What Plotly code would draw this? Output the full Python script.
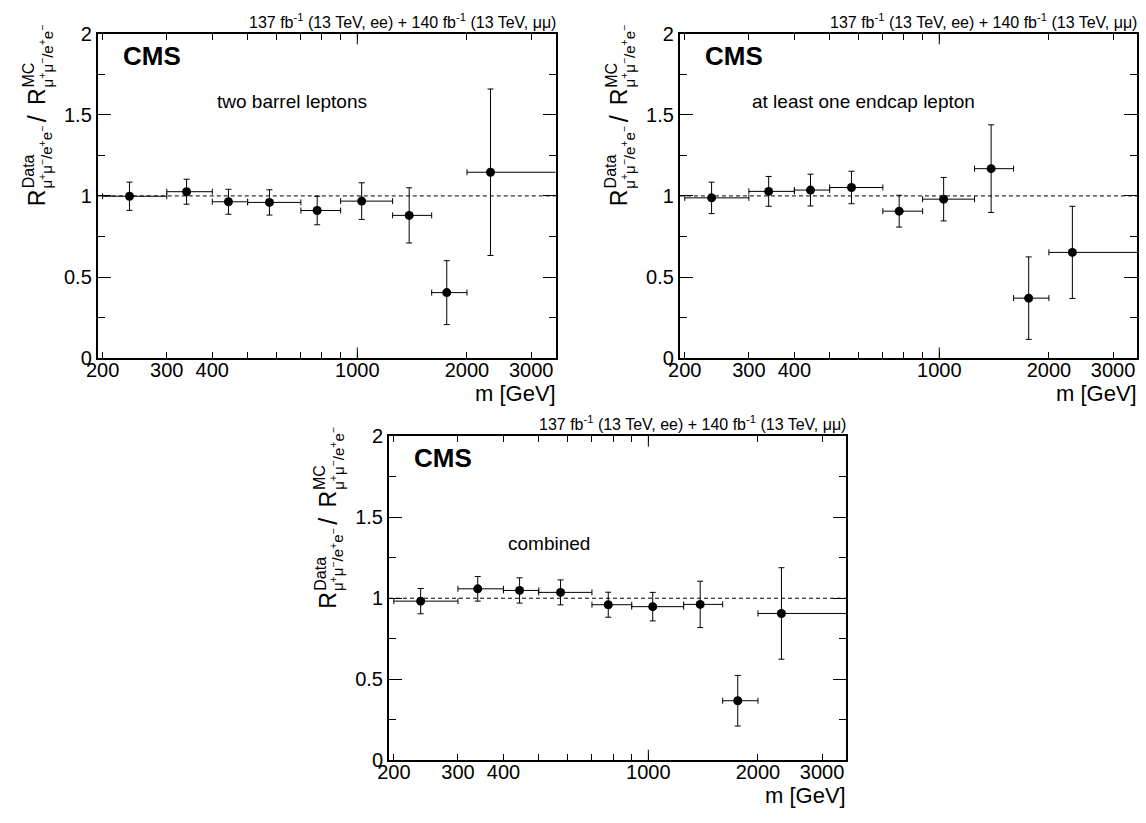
import math
import plotly.graph_objects as go

W, H = 1146, 823

# ---------------- data ----------------
mass_mean = [237, 340, 443, 574, 776, 1028, 1388, 1760, 2320]
bin_lo = [200, 300, 400, 500, 700, 900, 1250, 1600, 2000]
bin_hi = [300, 400, 500, 700, 900, 1250, 1600, 2000, 6000]

ratio_barrel = [0.998, 1.026, 0.964, 0.960, 0.910, 0.968, 0.880, 0.404, 1.146]
err_barrel = [0.087, 0.077, 0.077, 0.078, 0.088, 0.113, 0.170, 0.197, 0.513]

ratio_endcap = [0.988, 1.028, 1.036, 1.052, 0.906, 0.980, 1.168, 0.370, 0.652]
err_endcap = [0.097, 0.092, 0.098, 0.100, 0.098, 0.134, 0.270, 0.254, 0.284]

ratio_comb = [0.982, 1.058, 1.048, 1.036, 0.960, 0.948, 0.962, 0.368, 0.906]
err_comb = [0.078, 0.076, 0.078, 0.077, 0.077, 0.088, 0.143, 0.156, 0.282]

panel_labels = ["two barrel leptons", "at least one endcap lepton", "combined"]

x_tick_vals = [200, 300, 400, 1000, 2000, 3000]
x_tick_text = ["200", "300", "400", "1000", "2000", "3000"]
x_minor_vals = [500, 600, 700, 800, 900]
x_long_ticks = [1000]
y_tick_vals = [0, 0.5, 1, 1.5, 2]
y_tick_text = ["0", "0.5", "1", "1.5", "2"]
y_minor_vals = [0.25, 0.75, 1.25, 1.75]
x_range = [194, 3500]
y_range = [0, 2]

lumi_text = "137 fb<sup>-1</sup> (13 TeV, ee) + 140 fb<sup>-1</sup> (13 TeV, μμ)"
x_title = "m [GeV]"
sub_txt = "μ<sup>+</sup>μ<sup>−</sup>/e<sup>+</sup>e<sup>−</sup>"

# ---------------- layout helpers ----------------
FONT = "Liberation Sans, Arial, Helvetica, sans-serif"
# panel frames in pixels: left, top, right, bottom
boxes = [(86.7, 23.3, 549.3, 356.7), (675.0, 23.3, 1137.3, 356.7), (381.0, 436.7, 843.3, 770.0)]
# description text position (relative to panel left/top)
desc_pos = [(196, 70), (186, 70), (162, 110)]


def px(x, y):
    return x / W, 1 - y / H


fig = go.Figure()
series = [(ratio_barrel, err_barrel), (ratio_endcap, err_endcap), (ratio_comb, err_comb)]

annotations = []
shapes = []
for i, ((vals, errs), box) in enumerate(zip(series, boxes)):
    sfx = "" if i == 0 else str(i + 1)
    L, T, R, B = box
    fig.add_trace(go.Scatter(
        x=mass_mean, y=vals, mode="markers",
        marker=dict(color="black", size=9),
        error_x=dict(type="data", symmetric=False,
                     array=[h - m for h, m in zip(bin_hi, mass_mean)],
                     arrayminus=[m - l for m, l in zip(mass_mean, bin_lo)],
                     color="black", thickness=1, width=3),
        error_y=dict(type="data", array=errs, color="black", thickness=1, width=3),
        xaxis="x" + sfx, yaxis="y" + sfx, showlegend=False, hoverinfo="x+y",
    ))
    x0, y1 = px(L, T)
    x1, y0 = px(R, B)
    axis_common = dict(showline=True, linecolor="black", linewidth=2, mirror="allticks",
                       ticks="inside", tickcolor="black", showgrid=False, zeroline=False,
                       tickfont=dict(family=FONT, size=20, color="black"))
    fig.layout["xaxis" + sfx] = dict(
        axis_common, type="log", domain=[x0, x1], anchor="y" + sfx,
        range=[math.log10(x_range[0]), math.log10(x_range[1])],
        tickmode="array", tickvals=x_tick_vals, ticktext=x_tick_text, ticklen=6, tickwidth=1,
        ticklabelstandoff=-7,
        minor=dict(tickmode="array", tickvals=x_minor_vals, ticks="inside", ticklen=6,
                   tickwidth=1, tickcolor="black", showgrid=False),
    )
    fig.layout["yaxis" + sfx] = dict(
        axis_common, domain=[y0, y1], anchor="x" + sfx, range=y_range,
        tickmode="array", tickvals=y_tick_vals, ticktext=y_tick_text, ticklen=13, tickwidth=1,
        minor=dict(tickmode="array", tickvals=y_minor_vals, ticks="inside", ticklen=7,
                   tickwidth=1, tickcolor="black", showgrid=False),
    )
    # dashed reference line at unity
    shapes.append(dict(type="line", xref="x%s domain" % sfx, yref="y" + sfx, x0=0, x1=1, y0=1, y1=1,
                       line=dict(color="black", width=1, dash="4px,3px"), layer="below"))
    # longer decade ticks
    hfrac = 11 / (B - T)
    for v in x_long_ticks:
        shapes.append(dict(type="line", xref="x" + sfx, yref="y%s domain" % sfx, x0=v, x1=v, y0=0, y1=hfrac,
                           line=dict(color="black", width=1)))
        shapes.append(dict(type="line", xref="x" + sfx, yref="y%s domain" % sfx, x0=v, x1=v, y0=1 - hfrac, y1=1,
                           line=dict(color="black", width=1)))

    def ann(text, x, y, size, xa="center", ya="middle", angle=0, bold=False):
        ax, ay = px(x, y)
        annotations.append(dict(text=("<b>%s</b>" % text) if bold else text, x=ax, y=ay,
                                xref="paper", yref="paper", showarrow=False,
                                xanchor=xa, yanchor=ya, textangle=angle,
                                font=dict(family=FONT, size=size, color="black")))

    # CMS label
    ann("CMS", L + 23, T + 23, 26, xa="left", bold=True)
    # description
    dx, dy = desc_pos[i]
    ann(panel_labels[i], L + dx, T + dy, 19)
    # lumi text
    ann(lumi_text, R + 2, T - 13, 16, xa="right")
    # x title
    ann(x_title, R + 2, B + 36, 22, xa="right")
    # y title (stacked super/subscripts)
    yx = L - 62
    ann("R", yx, B - 154, 23, ya="bottom", angle=-90)
    ann("Data", yx - 8, B - 172, 16, ya="bottom", angle=-90)
    ann(sub_txt, yx + 9, B - 172, 15, ya="bottom", angle=-90)
    ann("/", yx, B - 246, 25, angle=-90)
    ann("R", yx, B - 258, 23, ya="bottom", angle=-90)
    ann("MC", yx - 8, B - 276, 16, ya="bottom", angle=-90)
    ann(sub_txt, yx + 9, B - 276, 15, ya="bottom", angle=-90)

fig.update_layout(
    width=W, height=H, autosize=False,
    margin=dict(l=0, r=0, t=0, b=0),
    paper_bgcolor="white", plot_bgcolor="white",
    font=dict(family=FONT, color="black"),
    annotations=annotations, shapes=shapes,
)
fig.write_html("out.html", config={"displayModeBar": False},
               post_script="document.body.style.margin='0';document.body.style.overflow='hidden';")
